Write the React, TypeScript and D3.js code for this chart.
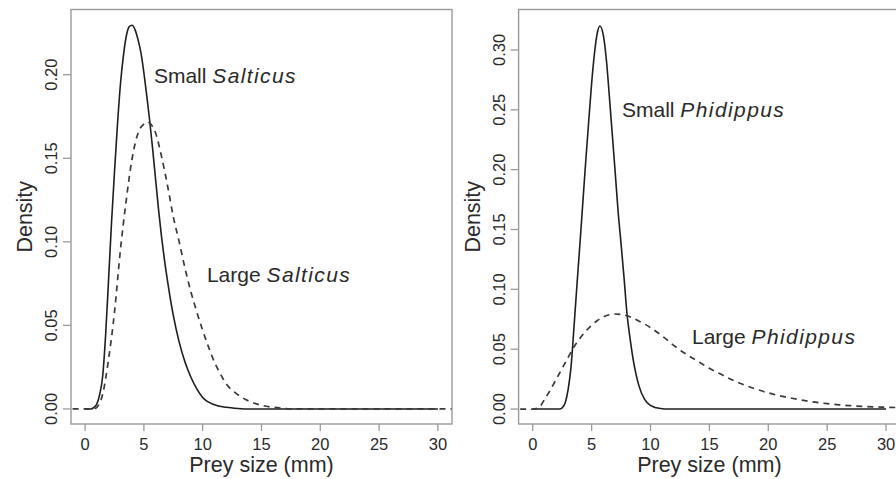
import React from 'react';
import * as d3 from 'd3';

// prey size (mm) and density values
const salticusSmallX = [0, 0.5, 0.75, 1, 1.25, 1.5, 1.75, 2, 2.25, 2.5, 2.75, 3, 3.25, 3.5, 3.75, 4, 4.25, 4.5, 4.75, 5, 5.25, 5.5, 5.75, 6, 6.25, 6.5, 6.75, 7, 7.5, 8, 8.5, 9, 9.5, 10, 11, 12, 13, 14, 20, 30];
const salticusSmallY = [0, 0, 0.001, 0.003, 0.009, 0.02, 0.045, 0.078, 0.112, 0.142, 0.17, 0.194, 0.211, 0.223, 0.2288, 0.2296, 0.2268, 0.221, 0.213, 0.201, 0.187, 0.172, 0.155, 0.137, 0.119, 0.103, 0.089, 0.077, 0.056, 0.04, 0.028, 0.019, 0.012, 0.0068, 0.0025, 0.001, 0.0003, 0, 0, 0];

const salticusLargeX = [-2, 0, 0.75, 1, 1.5, 2, 2.5, 3, 3.5, 4, 4.5, 5, 5.25, 5.5, 6, 6.5, 7, 7.5, 8, 8.5, 9, 9.5, 10, 10.5, 11, 11.5, 12, 13, 14, 15, 16, 17, 18, 25, 32];
const salticusLargeY = [0, 0, 0.0002, 0.001, 0.009, 0.03, 0.058, 0.095, 0.125, 0.15, 0.165, 0.1705, 0.1717, 0.171, 0.165, 0.151, 0.134, 0.115, 0.1, 0.084, 0.07, 0.058, 0.047, 0.037, 0.028, 0.021, 0.015, 0.0085, 0.0045, 0.0022, 0.001, 0.0003, 0, 0, 0];

const phidippusSmallX = [0, 2.25, 2.5, 2.75, 3, 3.25, 3.5, 3.75, 4, 4.25, 4.5, 4.75, 5, 5.25, 5.5, 5.7, 6, 6.25, 6.5, 6.75, 7, 7.25, 7.5, 7.75, 8, 8.25, 8.5, 8.75, 9, 9.5, 10, 10.5, 11, 11.5, 20, 30];
const phidippusSmallY = [0, 0, 0.001, 0.005, 0.016, 0.035, 0.068, 0.103, 0.137, 0.172, 0.207, 0.24, 0.272, 0.298, 0.315, 0.32, 0.312, 0.292, 0.262, 0.23, 0.198, 0.165, 0.138, 0.11, 0.08, 0.06, 0.043, 0.03, 0.02, 0.008, 0.003, 0.001, 0.0002, 0, 0, 0];

const phidippusLargeX = [-2, 0, 0.5, 1, 1.5, 2, 2.5, 3, 3.5, 4, 4.5, 5, 5.5, 6, 6.5, 7, 7.5, 8, 8.5, 9, 9.5, 10, 11, 12, 13, 14, 15, 16, 17, 18, 19, 20, 21, 22, 23, 24, 25, 26, 27, 28, 29, 30, 31];
const phidippusLargeY = [0, 0, 0.001, 0.008, 0.016, 0.025, 0.034, 0.043, 0.052, 0.059, 0.065, 0.07, 0.074, 0.077, 0.0788, 0.0794, 0.079, 0.078, 0.076, 0.0735, 0.071, 0.068, 0.061, 0.053, 0.046, 0.04, 0.034, 0.029, 0.024, 0.02, 0.0165, 0.0135, 0.011, 0.009, 0.0072, 0.0057, 0.0045, 0.0035, 0.0028, 0.0022, 0.0018, 0.0015, 0.0012];

const xTicks = [0, 5, 10, 15, 20, 25, 30];
const yTicksLeft = [0, 0.05, 0.1, 0.15, 0.2];
const yTicksRight = [0, 0.05, 0.1, 0.15, 0.2, 0.25, 0.3];

const genus = ['Salticus', 'Phidippus'];

const FONT = '"Liberation Sans", Arial, Helvetica, sans-serif';
const TEXT = '#2a2a2a';
const FRAME = '#9a9a9a';

type Curve = { x: number[]; y: number[]; dashed: boolean };
type Note = { size: string; name: string; x: number; y: number };

type PanelProps = {
  id: string;
  left: number;
  right: number;
  yDomain: [number, number];
  yTicks: number[];
  curves: Curve[];
  notes: Note[];
};

const W = 896;
const H = 479;
const TOP = 9.5;
const BOTTOM = 424;

function Panel({ id, left, right, yDomain, yTicks, curves, notes }: PanelProps) {
  const x = d3.scaleLinear().domain([-1.2, 31.2]).range([left, right]);
  const y = d3.scaleLinear().domain(yDomain).range([BOTTOM, TOP]);
  const fmt = d3.format('.2f');
  const lineGen = d3
    .line<[number, number]>()
    .x(d => x(d[0]))
    .y(d => y(d[1]))
    .curve(d3.curveMonotoneX);

  return (
    <g>
      <defs>
        <clipPath id={id}>
          <rect x={left} y={TOP} width={right - left} height={BOTTOM - TOP} />
        </clipPath>
      </defs>

      {/* curves */}
      <g clipPath={`url(#${id})`}>
        {curves.map((c, i) => (
          <path
            key={i}
            d={lineGen(c.x.map((v, j) => [v, c.y[j]] as [number, number])) || ''}
            fill="none"
            stroke={c.dashed ? '#3a3a3a' : '#1e1e1e'}
            strokeWidth={c.dashed ? 1.7 : 1.6}
            strokeDasharray={c.dashed ? '6,5' : undefined}
          />
        ))}
      </g>

      {/* frame */}
      <rect
        x={left}
        y={TOP}
        width={right - left}
        height={BOTTOM - TOP}
        fill="none"
        stroke={FRAME}
        strokeWidth={1.4}
      />

      {/* x axis */}
      {xTicks.map(t => (
        <g key={t}>
          <line x1={x(t)} x2={x(t)} y1={BOTTOM} y2={BOTTOM + 7} stroke={FRAME} strokeWidth={1.3} />
          <text
            x={x(t)}
            y={BOTTOM + 26}
            textAnchor="middle"
            fontSize={16.5}
            fill={TEXT}
            fontFamily={FONT}
          >
            {t}
          </text>
        </g>
      ))}
      <text
        x={(x(0) + x(30)) / 2}
        y={BOTTOM + 48}
        textAnchor="middle"
        fontSize={21.5}
        fill={TEXT}
        fontFamily={FONT}
      >
        Prey size (mm)
      </text>

      {/* y axis */}
      {yTicks.map(t => (
        <g key={t}>
          <line x1={left - 8} x2={left} y1={y(t)} y2={y(t)} stroke={FRAME} strokeWidth={1.3} />
          <text
            transform={`translate(${left - 14},${y(t)}) rotate(-90)`}
            textAnchor="middle"
            fontSize={16.5}
            fill={TEXT}
            fontFamily={FONT}
          >
            {fmt(t)}
          </text>
        </g>
      ))}
      <text
        transform={`translate(${left - 39},${(TOP + BOTTOM) / 2}) rotate(-90)`}
        textAnchor="middle"
        fontSize={21.5}
        fill={TEXT}
        fontFamily={FONT}
      >
        Density
      </text>

      {/* curve labels */}
      {notes.map(n => (
        <text key={n.size} x={x(n.x)} y={y(n.y)} fontSize={21} fill={TEXT} fontFamily={FONT}>
          {n.size + ' '}
          <tspan fontStyle="italic" letterSpacing={1.4}>
            {n.name}
          </tspan>
        </text>
      ))}
    </g>
  );
}

export default function App() {
  return (
    <svg
      width={W}
      height={H}
      viewBox={`0 0 ${W} ${H}`}
      style={{ position: 'absolute', left: 0, top: 0, background: '#fff' }}
    >
      <rect width={W} height={H} fill="#fff" />
      <Panel
        id="clipL"
        left={71}
        right={452}
        yDomain={[-0.009, 0.239]}
        yTicks={yTicksLeft}
        curves={[
          { x: salticusSmallX, y: salticusSmallY, dashed: false },
          { x: salticusLargeX, y: salticusLargeY, dashed: true },
        ]}
        notes={[
          { size: 'Small', name: genus[0], x: 5.85, y: 0.195 },
          { size: 'Large', name: genus[0], x: 10.36, y: 0.076 },
        ]}
      />
      <Panel
        id="clipR"
        left={518.6}
        right={900.2}
        yDomain={[-0.0125, 0.3338]}
        yTicks={yTicksRight}
        curves={[
          { x: phidippusSmallX, y: phidippusSmallY, dashed: false },
          { x: phidippusLargeX, y: phidippusLargeY, dashed: true },
        ]}
        notes={[
          { size: 'Small', name: genus[1], x: 7.58, y: 0.244 },
          { size: 'Large', name: genus[1], x: 13.52, y: 0.0543 },
        ]}
      />
    </svg>
  );
}
